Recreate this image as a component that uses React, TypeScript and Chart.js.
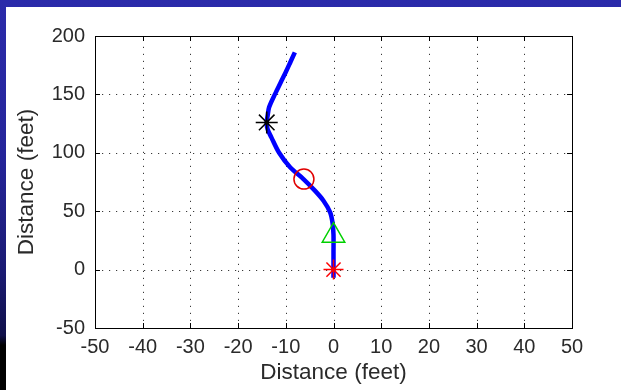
import React, { useEffect, useRef } from "react";
import { Chart, registerables } from "chart.js";

Chart.register(...registerables);

// Trajectory (feet)
const pathX = [0, 0, 0, 0, -0.2, -0.7, -2.1, -3.9, -6.3, -9.1, -11.4, -13.0, -13.8, -14.0, -13.8, -13.5, -12.3, -11.1, -9.9, -9.0, -8.1];
const pathY = [-7, 0, 15, 30, 40, 49, 59, 67.6, 77.5, 87.6, 100, 113, 120, 126, 132, 139, 150, 160, 170, 178, 186];

// Markers
const redStar = { x: 0, y: 0 };
const greenTriangle = { x: 0, y: 29 };
const redCircle = { x: -6.2, y: 77.5 };
const blackStar = { x: -14.0, y: 126 };

const xTicks = [-50, -40, -30, -20, -10, 0, 10, 20, 30, 40, 50];
const yTicks = [-50, 0, 50, 100, 150, 200];

const FONT = "'Liberation Sans', Arial, sans-serif";

const boxPlugin = {
  id: "matlabBox",
  beforeDatasetsDraw(chart: any) {
    const { ctx, chartArea } = chart;
    const { left, right, top, bottom } = chartArea;
    const xs = chart.scales.x;
    const ys = chart.scales.y;
    ctx.save();
    // dotted grid
    ctx.strokeStyle = "#3a3a3a";
    ctx.lineWidth = 1;
    ctx.setLineDash([1.2, 5.8]);
    ctx.beginPath();
    xs.ticks.forEach((t: any) => {
      const px = Math.round(xs.getPixelForValue(t.value)) + 0.5;
      if (Math.abs(px - left) < 2 || Math.abs(px - right) < 2) return;
      ctx.moveTo(px, bottom);
      ctx.lineTo(px, top);
    });
    ys.ticks.forEach((t: any) => {
      const py = Math.round(ys.getPixelForValue(t.value)) + 0.5;
      if (Math.abs(py - top) < 2 || Math.abs(py - bottom) < 2) return;
      ctx.moveTo(left, py);
      ctx.lineTo(right, py);
    });
    ctx.stroke();
    // inward ticks + box
    ctx.setLineDash([]);
    ctx.strokeStyle = "#000";
    ctx.beginPath();
    xs.ticks.forEach((t: any) => {
      const px = Math.round(xs.getPixelForValue(t.value)) + 0.5;
      ctx.moveTo(px, bottom);
      ctx.lineTo(px, bottom - 5);
      ctx.moveTo(px, top);
      ctx.lineTo(px, top + 5);
    });
    ys.ticks.forEach((t: any) => {
      const py = Math.round(ys.getPixelForValue(t.value)) + 0.5;
      ctx.moveTo(left, py);
      ctx.lineTo(left + 5, py);
      ctx.moveTo(right, py);
      ctx.lineTo(right - 5, py);
    });
    ctx.stroke();
    ctx.strokeRect(Math.round(left) + 0.5, Math.round(top) + 0.5, Math.round(right - left), Math.round(bottom - top));
    ctx.restore();
  },
};

export default function App() {
  const ref = useRef<HTMLCanvasElement>(null);
  useEffect(() => {
    if (!ref.current) return;
    const chart = new Chart(ref.current, {
      type: "scatter",
      data: {
        datasets: [
          {
            data: [redStar],
            pointStyle: "star",
            pointRadius: 10,
            borderColor: "#ff0000",
            backgroundColor: "#ff0000",
            pointBorderWidth: 1.5,
            showLine: false,
            order: 0,
          },
          {
            data: [greenTriangle],
            pointStyle: "triangle",
            pointRadius: 13,
            borderColor: "#00d000",
            backgroundColor: "rgba(0,0,0,0)",
            pointBorderWidth: 1.5,
            showLine: false,
            order: 0,
          },
          {
            data: [redCircle],
            pointStyle: "circle",
            pointRadius: 10,
            borderColor: "#e00000",
            backgroundColor: "rgba(0,0,0,0)",
            pointBorderWidth: 1.5,
            showLine: false,
            order: 0,
          },
          {
            data: [blackStar],
            pointStyle: "star",
            pointRadius: 11,
            borderColor: "#000",
            backgroundColor: "#000",
            pointBorderWidth: 1.5,
            showLine: false,
            order: 0,
          },
          {
            data: pathX.map((x, i) => ({ x, y: pathY[i] })),
            showLine: true,
            borderColor: "#0000ff",
            borderWidth: 4.5,
            pointRadius: 0,
            tension: 0.3,
            borderCapStyle: "butt",
            borderJoinStyle: "round",
            order: 1,
          },
        ],
      },
      options: {
        responsive: false,
        animation: false,
        devicePixelRatio: 1,
        layout: { padding: { left: 0, top: 29, right: 49, bottom: 0 } },
        plugins: { legend: { display: false }, tooltip: { enabled: false } },
        scales: {
          x: {
            type: "linear",
            min: -50,
            max: 50,
            afterBuildTicks: (s: any) => {
              s.ticks = xTicks.map((v) => ({ value: v }));
            },
            afterFit: (s: any) => {
              s.height = 62;
            },
            border: { display: false },
            grid: { display: false, drawTicks: false },
            ticks: {
              padding: 7,
              color: "#2a2a2a",
              font: { family: FONT, size: 20 },
              maxRotation: 0,
              autoSkip: false,
            },
            title: {
              display: true,
              text: "Distance (feet)",
              color: "#2a2a2a",
              font: { family: FONT, size: 22.5, lineHeight: 1.1 },
              padding: { top: 0, bottom: 5 },
            },
          },
          y: {
            type: "linear",
            min: -50,
            max: 200,
            afterBuildTicks: (s: any) => {
              s.ticks = yTicks.map((v) => ({ value: v }));
            },
            afterFit: (s: any) => {
              s.width = 89;
            },
            border: { display: false },
            grid: { display: false, drawTicks: false },
            ticks: {
              padding: 10,
              color: "#2a2a2a",
              font: { family: FONT, size: 20 },
              autoSkip: false,
            },
            title: {
              display: true,
              text: "Distance (feet)",
              color: "#2a2a2a",
              font: { family: FONT, size: 22.5, lineHeight: 1.1 },
              padding: { top: 8, bottom: 0 },
            },
          },
        },
      },
      plugins: [boxPlugin],
    } as any);
    return () => chart.destroy();
  }, []);

  return (
    <div
      style={{
        position: "fixed",
        left: 0,
        top: 0,
        width: 621,
        height: 390,
        background:
          "linear-gradient(to bottom, #2b2baa 0%, #25259a 40%, #1a1a72 70%, #10104a 86%, #000 88.5%, #000 100%)",
        overflow: "hidden",
      }}
    >
      <div
        style={{
          position: "absolute",
          left: 6,
          top: 7,
          width: 615,
          height: 383,
          background: "#fff",
        }}
      >
        <canvas ref={ref} width={615} height={383} style={{ display: "block" }} />
      </div>
    </div>
  );
}
